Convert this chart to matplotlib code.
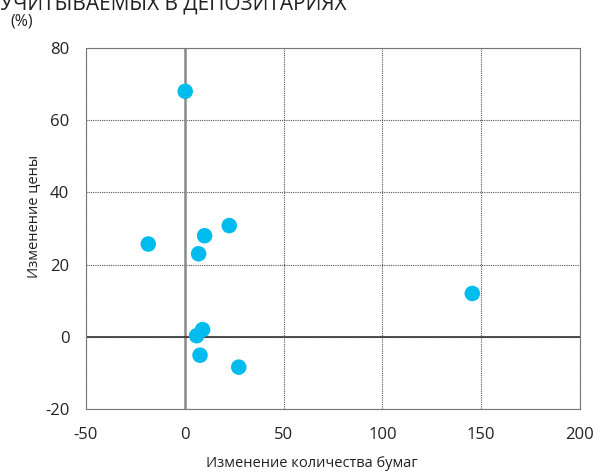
import matplotlib
matplotlib.use("Agg")
import matplotlib.pyplot as plt

plt.rcParams['font.family'] = ['Open Sans', 'DejaVu Sans']
plt.rcParams['axes.unicode_minus'] = False

# Change in number of securities (%) vs change in price (%)
qty_change = [0.2, -18.5, 10, 22.5, 7, 145.5, 9, 6, 7.7, 27.3]
price_change = [68, 25.7, 28, 30.8, 23, 12, 2, 0.3, -5.1, -8.4]

x_ticks = [-50, 0, 50, 100, 150, 200]
y_ticks = [-20, 0, 20, 40, 60, 80]

fig = plt.figure(figsize=(6.01, 4.75), dpi=100)
ax = fig.add_axes([86/601, 1 - 409/475, 494/601, 361/475])

ax.set_xlim(-50, 200)
ax.set_ylim(-20, 80)
ax.set_xticks(x_ticks)
ax.set_yticks(y_ticks)

ax.grid(True, linestyle=(0, (1, 1)), color='#555555', linewidth=0.8)
for s in ax.spines.values():
    s.set_linestyle((0, (1, 1)))
    s.set_color('#777777')
    s.set_linewidth(0.8)

ax.axvline(0, color='#8a8a8a', linewidth=1.8, zorder=2)
ax.axhline(0, color='#333333', linewidth=1.2, zorder=2)

ax.scatter(qty_change, price_change, s=125, color='#00bbee', edgecolors='none', zorder=3)

ax.tick_params(length=0, labelsize=12, colors='#222222')
ax.tick_params(axis='x', pad=13)
ax.tick_params(axis='y', pad=12)
ax.set_xlabel('Изменение количества бумаг', fontsize=10.5, color='#222222')
ax.set_ylabel('Изменение цены', fontsize=10.5, color='#222222')
ax.xaxis.set_label_coords((312 - 86) / 494, -(456 - 409) / 361)
ax.yaxis.set_label_coords(-(86 - 41) / 494, (409 - 216) / 361)

fig.text(10/601, 1 - 22/475, '(%)', fontsize=11.5, color='#222222', va='center')
fig.text(0, 1 - 4/475, 'УЧИТЫВАЕМЫХ В ДЕПОЗИТАРИЯХ', fontsize=15, color='#222222', va='center')

fig.savefig('out.png', dpi=100)
